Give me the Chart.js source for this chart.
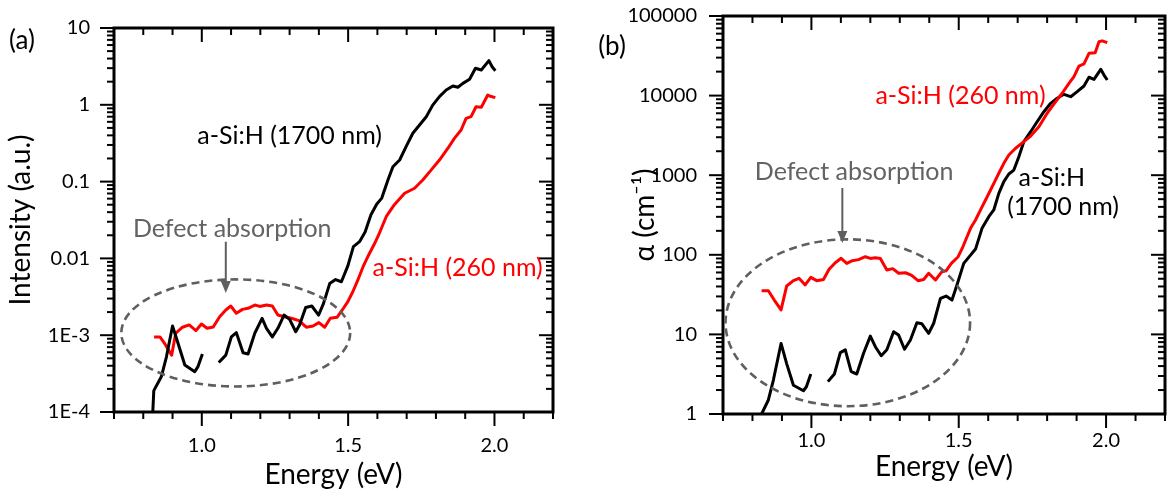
<!DOCTYPE html>
<html>
<head>
<meta charset="utf-8">
<script src="https://cdn.jsdelivr.net/npm/chart.js@4.4.1/dist/chart.umd.min.js"></script>
<style>
  html, body { margin: 0; padding: 0; background: #fff; }
  #wrap { position: relative; width: 1167px; height: 493px; overflow: hidden; }
  #wrap canvas { position: absolute; top: 0; }
  #panelA { left: 0; }
  #panelB { left: 583px; }
</style>
</head>
<body>
<div id="wrap">
  <canvas id="panelA" width="583" height="493"></canvas>
  <canvas id="panelB" width="584" height="493"></canvas>
</div>
<script>
// ---- Panel (a): PDS intensity spectra ----
const energyA1700 = [0.832, 0.836, 0.862, 0.879, 0.900, 0.919, 0.942, 0.976, 0.987, 1.002, 1.030,
  1.058, 1.082, 1.101, 1.118, 1.141, 1.158, 1.181, 1.206, 1.221, 1.241, 1.260, 1.281, 1.300, 1.321,
  1.334, 1.355, 1.376, 1.399, 1.416, 1.437, 1.457, 1.477, 1.499, 1.518, 1.539, 1.558, 1.578, 1.598,
  1.615, 1.636, 1.653, 1.676, 1.698, 1.721, 1.744, 1.767, 1.789, 1.812, 1.835, 1.858, 1.875, 1.892,
  1.915, 1.935, 1.955, 1.981, 1.992, 2.003];
const intensity1700 = [0.00009, 0.00019, 0.00029, 0.00052, 0.00132, 0.00078, 0.00041, 0.000335, 0.00039, 0.00057, null,
  0.00044, 0.00055, 0.00095, 0.00108, 0.00059, 0.00057, 0.00106, 0.00166, 0.00123, 0.00095, 0.00123, 0.00183, 0.00161, 0.00111,
  0.00136, 0.0023, 0.0024, 0.00183, 0.0026, 0.0047, 0.0053, 0.00497, 0.008, 0.0142, 0.0165, 0.022, 0.037, 0.051,
  0.061, 0.105, 0.156, 0.191, 0.285, 0.426, 0.546, 0.70, 0.99, 1.28, 1.56, 1.76, 1.69, 1.9,
  2.15, 2.99, 2.84, 3.76, 3.13, 2.78];

const energyA260 = [0.837, 0.857, 0.874, 0.897, 0.911, 0.934, 0.957, 0.980, 0.999, 1.018, 1.039,
  1.061, 1.082, 1.099, 1.118, 1.139, 1.158, 1.181, 1.198, 1.221, 1.241, 1.260, 1.283, 1.306, 1.332,
  1.357, 1.380, 1.400, 1.420, 1.439, 1.462, 1.480, 1.499, 1.516, 1.533, 1.551, 1.567, 1.590, 1.605,
  1.630, 1.658, 1.693, 1.727, 1.755, 1.784, 1.812, 1.841, 1.863, 1.886, 1.903, 1.920, 1.937, 1.955,
  1.977, 1.989, 2.003];
const intensity260 = [0.00095, 0.00095, 0.00077, 0.00055, 0.00106, 0.00127, 0.00136, 0.00115, 0.0014, 0.00123, 0.00128,
  0.00174, 0.00213, 0.0024, 0.00193, 0.00217, 0.00224, 0.00247, 0.00237, 0.00247, 0.0024, 0.00183, 0.00174, 0.00166, 0.00155,
  0.00127, 0.00132, 0.00146, 0.00127, 0.00166, 0.00171, 0.00213, 0.00273, 0.00368, 0.0052, 0.0078, 0.0105, 0.0155, 0.0205,
  0.0349, 0.050, 0.0705, 0.082, 0.105, 0.142, 0.191, 0.272, 0.366, 0.47, 0.667, 0.70, 0.944, 0.93,
  1.34, 1.28, 1.24];

// ---- Panel (b): absorption coefficient ----
const energyB1700 = [0.831, 0.854, 0.871, 0.897, 0.916, 0.939, 0.973, 0.983, 0.998, 1.030,
  1.056, 1.078, 1.098, 1.115, 1.135, 1.154, 1.177, 1.200, 1.217, 1.237, 1.256, 1.279, 1.296, 1.316,
  1.336, 1.358, 1.375, 1.398, 1.415, 1.438, 1.457, 1.477, 1.494, 1.517, 1.540, 1.557, 1.579, 1.602,
  1.619, 1.636, 1.653, 1.670, 1.687, 1.704, 1.721, 1.744, 1.766, 1.789, 1.812, 1.834, 1.857, 1.880,
  1.902, 1.925, 1.942, 1.959, 1.982, 1.993, 2.004];
const alpha1700 = [1.0, 1.5, 2.67, 7.7, 4.3, 2.3, 1.96, 2.2, 3.18, null,
  2.55, 3.18, 5.9, 6.4, 3.4, 3.18, 5.8, 9.5, 7.0, 5.4, 6.4, 10.8, 9.8, 6.5,
  8.5, 14.0, 13.6, 10.3, 13.8, 28.4, 30.3, 27, 41.8, 78, 99, 118, 215, 301,
  366, 592, 830, 1035, 1160, 1710, 2640, 3520, 4700, 6280, 8000, 9250, 10380, 9690,
  11200, 13200, 17000, 16000, 21400, 18100, 15700];

const energyB260 = [0.831, 0.854, 0.874, 0.897, 0.916, 0.939, 0.958, 0.979, 0.998, 1.018, 1.041,
  1.060, 1.081, 1.101, 1.120, 1.139, 1.160, 1.183, 1.200, 1.217, 1.234, 1.256, 1.276, 1.296, 1.319,
  1.339, 1.362, 1.381, 1.398, 1.421, 1.443, 1.457, 1.475, 1.498, 1.512, 1.540, 1.557, 1.574, 1.591,
  1.608, 1.622, 1.636, 1.653, 1.670, 1.693, 1.721, 1.744, 1.772, 1.800, 1.829, 1.851, 1.874, 1.891,
  1.908, 1.925, 1.942, 1.963, 1.976, 1.987, 2.004];
const alpha260 = [35.4, 35.4, 27, 20.3, 40.5, 47.3, 50.7, 41.8, 52, 47.3, 49,
  65.8, 79.6, 90.3, 78, 84.3, 87, 94.6, 90, 92, 90, 64.4, 67, 58.6, 59.5,
  55.7, 47.3, 49, 58.6, 48.2, 61.4, 63, 78, 94.6, 121, 215, 274, 366, 488,
  651, 830, 1057, 1410, 1795, 2180, 2640, 3100, 4060, 6000, 8380, 10700, 14260, 17300,
  23500, 25000, 34000, 34600, 47500, 48700, 46200];

// ---- Axis tick labels ----
const energyTicks = [1.0, 1.5, 2.0];
const energyTickLabels = ['1.0', '1.5', '2.0'];
const intensityTicks = [1e-4, 1e-3, 1e-2, 1e-1, 1, 10];
const intensityTickLabels = ['1E-4', '1E-3', '0.01', '0.1', '1', '10'];
const alphaTicks = [1, 10, 100, 1000, 10000, 100000];
const alphaTickLabels = ['1', '10', '100', '1000', '10000', '100000'];

const RED = '#ff0000';
const BLACK = '#000000';
const GREY = '#5f5f5f';
const FONT = 'Lato, "Open Sans", sans-serif';

Chart.defaults.font.family = FONT;
Chart.defaults.color = '#000';

const toPoints = (xs, ys) => xs.map((x, i) => ({ x: x, y: ys[i] }));

// Frame with mirrored ticks, plus the dashed "defect" ellipse, arrow and curve labels.
const panelDecor = {
  id: 'panelDecor',
  afterDraw(chart, args, o) {
    const { ctx, chartArea: a, scales: { x, y } } = chart;
    const seg = (x1, y1, x2, y2) => { ctx.beginPath(); ctx.moveTo(x1, y1); ctx.lineTo(x2, y2); ctx.stroke(); };
    ctx.save();
    ctx.strokeStyle = '#000';
    ctx.lineCap = 'butt';
    ctx.lineWidth = 2;
    // energy ticks every 0.1 eV, longer at every 0.5 eV
    for (let k = 7; k <= 22; k++) {
      const px = x.getPixelForValue(k / 10);
      const len = k % 5 === 0 ? 14 : 7;
      seg(px, a.bottom, px, a.bottom + len);
      seg(px, a.top, px, a.top + len);
    }
    // log ticks: decades long, 2..9 short
    const e0 = Math.round(Math.log10(y.min)), e1 = Math.round(Math.log10(y.max));
    for (let d = e0; d <= e1; d++) {
      for (let m = 1; m <= 9; m++) {
        if (d === e1 && m > 1) break;
        const py = y.getPixelForValue(m * Math.pow(10, d));
        const len = m === 1 ? 14 : 7;
        seg(a.left - len, py, a.left, py);
        seg(a.right - len, py, a.right, py);
      }
    }
    ctx.lineWidth = 3;
    ctx.strokeRect(a.left, a.top, a.right - a.left, a.bottom - a.top);

    // dashed ellipse around the sub-gap region
    const el = o.ellipse;
    const cx = x.getPixelForValue(el.energy), cy = y.getPixelForValue(el.value);
    const rx = x.getPixelForValue(el.energy + el.halfWidth) - cx;
    const ry = cy - y.getPixelForValue(el.value * Math.pow(10, el.halfDecades));
    ctx.strokeStyle = GREY;
    ctx.lineWidth = 2.6;
    ctx.setLineDash([8, 5]);
    ctx.beginPath();
    ctx.ellipse(cx, cy, rx, ry, 0, 0, Math.PI * 2);
    ctx.stroke();
    ctx.setLineDash([]);

    // arrow pointing into the ellipse
    const ar = o.arrow;
    const ax = x.getPixelForValue(ar.energy);
    const ay1 = y.getPixelForValue(ar.from), ay2 = y.getPixelForValue(ar.to);
    ctx.lineWidth = 2;
    seg(ax, ay1, ax, ay2 - 10);
    ctx.fillStyle = GREY;
    ctx.beginPath();
    ctx.moveTo(ax - 5, ay2 - 12);
    ctx.lineTo(ax + 5, ay2 - 12);
    ctx.lineTo(ax, ay2);
    ctx.closePath();
    ctx.fill();

    // text labels
    ctx.textAlign = 'center';
    ctx.textBaseline = 'middle';
    o.labels.forEach(t => {
      ctx.fillStyle = t.color;
      ctx.font = t.size + 'px ' + FONT;
      ctx.fillText(t.text, x.getPixelForValue(t.energy), y.getPixelForValue(t.value));
    });
    // panel letter
    ctx.fillStyle = '#000';
    ctx.font = '26px ' + FONT;
    ctx.fillText(o.letter.text, o.letter.px, o.letter.py);
    ctx.restore();
  }
};

function buildPanel(id, cfg) {
  return new Chart(document.getElementById(id), {
    type: 'line',
    data: { datasets: cfg.datasets },
    options: {
      responsive: false,
      animation: false,
      devicePixelRatio: 1,
      layout: { padding: cfg.padding },
      plugins: { legend: { display: false }, tooltip: { enabled: false }, panelDecor: cfg.decor },
      elements: {
        point: { radius: 0 },
        line: { borderWidth: 3, tension: 0, borderJoinStyle: 'round', borderCapStyle: 'butt' }
      },
      scales: {
        x: {
          type: 'linear', min: 0.7, max: 2.2,
          grid: { display: false, drawTicks: false },
          border: { display: false },
          afterBuildTicks: s => { s.ticks = energyTicks.map(v => ({ value: v })); },
          afterFit: s => { s.height = cfg.xAxisHeight; s.paddingLeft = 0; s.paddingRight = 0; },
          ticks: {
            autoSkip: false, maxRotation: 0, padding: cfg.xTickPad,
            font: { size: 20 }, color: '#000',
            callback: (v, i) => energyTickLabels[i]
          },
          title: {
            display: true, text: 'Energy (eV)', color: '#000',
            font: { size: 28, lineHeight: 1.2 },
            padding: { top: 0, bottom: cfg.xTitlePad }
          }
        },
        y: {
          type: 'logarithmic', min: cfg.yTicks[0], max: cfg.yTicks[cfg.yTicks.length - 1],
          grid: { display: false, drawTicks: false },
          border: { display: false },
          afterBuildTicks: s => { s.ticks = cfg.yTicks.map(v => ({ value: v })); },
          afterFit: s => { s.width = cfg.yAxisWidth; s.paddingTop = 0; s.paddingBottom = 0; },
          ticks: {
            autoSkip: false, padding: cfg.yTickPad,
            font: { size: 20 }, color: '#000',
            callback: (v, i) => cfg.yTickLabels[i]
          },
          title: {
            display: true, text: cfg.yTitle, color: '#000',
            font: { size: 28, lineHeight: 1.2 },
            padding: { top: cfg.yTitlePad, bottom: 0 }
          }
        }
      }
    },
    plugins: [panelDecor]
  });
}

buildPanel('panelA', {
  datasets: [
    { label: 'a-Si:H (1700 nm)', data: toPoints(energyA1700, intensity1700), borderColor: BLACK, spanGaps: false },
    { label: 'a-Si:H (260 nm)', data: toPoints(energyA260, intensity260), borderColor: RED, spanGaps: false }
  ],
  padding: { left: 0, top: 28, right: 30, bottom: 0 },
  xAxisHeight: 81, yAxisWidth: 114,
  xTickPad: 22, yTickPad: 24, xTitlePad: 1, yTitlePad: 4,
  yTicks: intensityTicks, yTickLabels: intensityTickLabels,
  yTitle: 'Intensity (a.u.)',
  decor: {
    ellipse: { energy: 1.116, value: 1.07e-3, halfWidth: 0.391, halfDecades: 0.697 },
    arrow: { energy: 1.082, from: 0.0165, to: 3.54e-3 },
    labels: [
      { text: 'Defect absorption', energy: 1.104, value: 0.0241, color: '#636363', size: 25 },
      { text: 'a-Si:H (1700 nm)', energy: 1.300, value: 0.393, color: BLACK, size: 25 },
      { text: 'a-Si:H (260 nm)', energy: 1.874, value: 0.0075, color: RED, size: 25 }
    ],
    letter: { text: '(a)', px: 22, py: 41 }
  }
});

buildPanel('panelB', {
  datasets: [
    { label: 'a-Si:H (260 nm)', data: toPoints(energyB260, alpha260), borderColor: RED, spanGaps: false },
    { label: 'a-Si:H (1700 nm)', data: toPoints(energyB1700, alpha1700), borderColor: BLACK, spanGaps: false }
  ],
  padding: { left: 0, top: 16, right: 2, bottom: 0 },
  xAxisHeight: 79, yAxisWidth: 140,
  xTickPad: 15, yTickPad: 26, xTitlePad: 9, yTitlePad: 45,
  yTicks: alphaTicks, yTickLabels: alphaTickLabels,
  yTitle: 'α (cm⁻¹)',
  decor: {
    ellipse: { energy: 1.1235, value: 14.0, halfWidth: 0.415, halfDecades: 1.048 },
    arrow: { energy: 1.105, from: 690, to: 141 },
    labels: [
      { text: 'Defect absorption', energy: 1.145, value: 1100, color: '#636363', size: 25 },
      { text: 'a-Si:H (260 nm)', energy: 1.506, value: 9900, color: RED, size: 25 },
      { text: 'a-Si:H', energy: 1.816, value: 922, color: BLACK, size: 25 },
      { text: '(1700 nm)', energy: 1.854, value: 398, color: BLACK, size: 25 }
    ],
    letter: { text: '(b)', px: 29, py: 47 }
  }
});
</script>
</body>
</html>
